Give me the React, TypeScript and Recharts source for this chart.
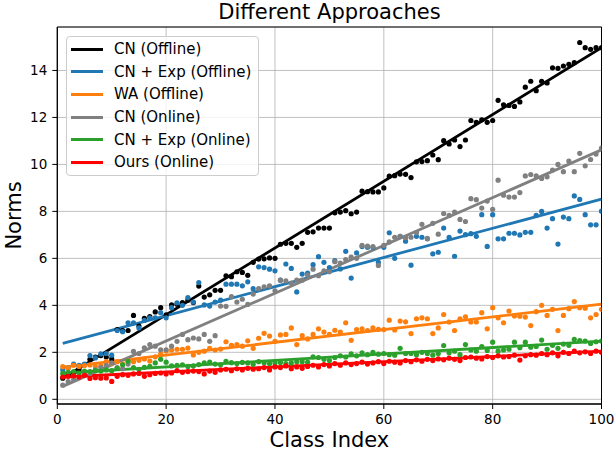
import * as React from 'react';
import {
  ComposedChart,
  Scatter,
  Line,
  XAxis,
  YAxis,
  CartesianGrid,
  Legend,
  ReferenceArea,
} from 'recharts';

const classIndex = Array.from({ length: 100 }, (_, i) => i + 1);

const cnOffline = [
  0.9, 1.02, 1.15, 1.3, 1.48, 1.7, 1.8, 1.86, 1.8, 1.72,
  2.97, 2.92, 2.93, 3.57, 3.12, 3.45, 3.52, 3.72, 3.9, 3.6,
  4.02, 4.05, 4.12, 4.22, 4.12, 4.82, 4.35, 4.45, 4.64, 4.64,
  5.26, 5.22, 5.43, 5.4, 5.28, 5.83, 5.97, 5.98, 6.02, 6.0,
  6.6, 6.64, 6.64, 6.47, 6.64, 7.11, 7.13, 7.29, 7.29, 7.29,
  7.94, 7.97, 8.03, 7.9, 7.97, 8.86, 8.84, 8.83, 8.83, 9.0,
  9.5, 9.52, 9.59, 9.58, 9.44, 10.11, 10.12, 10.16, 10.4, 10.2,
  11.01, 10.87, 11.04, 10.76, 11.04, 11.87, 11.79, 11.9, 11.79, 11.87,
  12.73, 12.54, 12.51, 12.47, 12.66, 13.29, 13.54, 13.14, 13.54, 13.47,
  14.11, 14.09, 14.19, 14.26, 14.33, 15.19, 14.97, 14.9, 14.97, 14.97,
];

const cnExpOffline = [
  1.26, 1.33, 1.5, 1.45, 1.5, 1.86, 1.76, 1.93, 1.95, 1.88,
  2.93, 2.88, 3.26, 3.26, 3.04, 3.36, 3.47, 3.47, 3.69, 3.47,
  3.9, 4.11, 4.0, 4.33, 4.14, 4.97, 4.02, 3.97, 4.14, 4.22,
  4.9, 4.9, 4.9, 4.83, 5.0, 4.71, 5.64, 5.61, 5.54, 5.47,
  5.07, 5.76, 5.57, 4.57, 5.33, 5.37, 5.73, 6.07, 5.83, 5.61,
  5.9, 5.55, 6.3, 5.16, 6.23, 6.5, 6.47, 6.47, 5.83, 6.47,
  7.09, 6.0, 6.94, 6.73, 5.71, 6.94, 6.9, 6.83, 6.19, 6.26,
  7.29, 6.9, 6.09, 7.16, 7.01, 7.05, 6.94, 7.86, 6.51, 7.86,
  6.83, 6.83, 7.07, 7.07, 7.0, 7.11, 7.11, 7.83, 8.0, 7.29,
  7.69, 6.61, 7.76, 7.69, 8.66, 8.51, 7.86, 7.43, 7.43, 8.01,
];

const waOffline = [
  1.39, 1.33, 1.45, 1.4, 1.44, 1.46, 1.4, 1.43, 1.6, 1.52,
  1.6, 1.5, 1.63, 1.6, 1.66, 1.72, 1.63, 1.81, 1.92, 2.06,
  2.1, 2.13, 2.13, 2.18, 1.89, 2.0, 2.05, 2.17, 2.1, 2.14,
  2.45, 2.3, 2.33, 2.26, 2.49, 2.17, 2.6, 2.81, 2.69, 2.47,
  2.74, 2.76, 3.04, 2.33, 2.71, 2.57, 2.76, 3.0, 2.86, 2.76,
  2.94, 2.86, 3.26, 2.51, 2.97, 3.0, 2.93, 3.04, 2.98, 2.97,
  3.37, 2.95, 3.33, 3.3, 2.8, 3.43, 3.47, 3.43, 2.8, 3.04,
  3.61, 3.29, 2.93, 3.43, 3.51, 3.29, 3.29, 3.69, 3.0, 3.9,
  3.47, 3.26, 3.76, 3.55, 3.54, 3.5, 3.14, 3.73, 4.0, 3.57,
  3.83, 2.93, 3.57, 3.86, 4.16, 3.9, 3.88, 3.47, 3.61, 3.83,
];

const cnOnline = [
  0.6, 0.75, 0.85, 0.95, 1.05, 1.1, 1.25, 1.35, 1.45, 1.55,
  1.35, 1.3, 1.5, 2.04, 1.95, 2.19, 2.33, 2.26, 2.11, 2.11,
  2.26, 2.47, 2.76, 2.54, 2.61, 2.57, 2.76, 2.47, 2.71, 3.97,
  3.96, 4.37, 4.14, 4.26, 4.04, 4.48, 4.71, 4.79, 4.83, 4.62,
  5.07, 5.04, 4.95, 5.08, 5.07, 5.29, 5.54, 5.26, 5.47, 5.43,
  5.86, 5.8, 5.95, 6.05, 6.0, 6.55, 6.52, 6.5, 5.7, 6.55,
  6.7, 6.9, 6.94, 6.88, 6.9, 7.1, 7.45, 6.85, 7.49, 7.03,
  7.91, 7.83, 7.97, 7.66, 7.57, 8.54, 8.5, 8.14, 8.44, 8.09,
  9.33, 8.69, 8.61, 8.61, 8.8, 9.51, 9.57, 9.51, 9.4, 9.47,
  9.76, 10.0, 9.69, 10.14, 9.69, 10.47, 9.94, 10.21, 10.44, 10.69,
];

const cnExpOnline = [
  1.1, 1.15, 1.18, 1.12, 1.2, 1.18, 1.22, 1.2, 1.25, 1.22,
  1.32, 1.47, 1.62, 1.35, 1.28, 1.36, 1.4, 1.55, 1.7, 1.58,
  1.42, 1.45, 1.47, 1.4, 1.42, 1.48, 1.55, 1.58, 1.5, 1.47,
  1.62, 1.56, 1.52, 1.57, 1.55, 1.49, 1.6, 1.56, 1.52, 1.55,
  1.57, 1.52, 1.55, 1.6, 1.6, 1.58, 1.81, 1.78, 1.7, 1.65,
  1.78, 1.85, 1.8, 1.93, 1.85, 1.98, 1.9, 2.0, 1.92, 1.95,
  1.9, 1.88, 2.17, 1.95, 1.95, 1.9, 2.0, 1.95, 1.88, 1.95,
  2.29, 1.98, 2.05, 1.9, 2.33, 2.1, 2.05, 2.24, 2.08, 2.43,
  2.05, 2.1, 2.13, 2.43, 2.2, 2.43, 2.22, 2.25, 2.52, 2.13,
  2.3, 2.17, 2.35, 2.3, 2.55, 2.5, 2.48, 2.38, 2.45, 2.48,
];

const oursOnline = [
  0.95, 0.98, 1.0, 0.95, 1.02, 0.89, 0.92, 0.9, 0.91, 0.76,
  0.98, 1.05, 1.02, 1.08, 1.1, 0.98, 1.05, 1.1, 1.12, 1.08,
  1.12, 1.22, 1.15, 1.18, 1.2, 1.18, 1.08, 1.2, 1.15, 1.25,
  1.28, 1.22, 1.3, 1.25, 1.32, 1.28, 1.3, 1.35, 1.25, 1.38,
  1.35, 1.42, 1.3, 1.38, 1.32, 1.4, 1.45, 1.38, 1.48, 1.42,
  1.52, 1.45, 1.55, 1.48, 1.52, 1.58, 1.5, 1.55, 1.6, 1.52,
  1.62, 1.58, 1.55, 1.65, 1.6, 1.68, 1.62, 1.7, 1.65, 1.72,
  1.68, 1.75, 1.7, 1.65, 1.78, 1.8, 1.75, 1.72, 1.82, 1.78,
  1.85, 1.8, 1.82, 1.88, 1.67, 1.85, 1.9, 1.88, 1.95, 1.9,
  1.98, 1.85, 2.0, 1.95, 2.05, 1.98, 2.02, 1.95, 2.05, 2.0,
];

// fitted lines, value at class 1 and class 100
const fitEnds = {
  cnOffline: [0.9, 14.97],
  cnExpOffline: [2.38, 8.52],
  waOffline: [1.37, 4.05],
  cnOnline: [0.55, 10.62],
  cnExpOnline: [1.12, 2.48],
  oursOnline: [0.95, 2.05],
};

const seriesNames = ['CN (Offline)', 'CN + Exp (Offline)', 'WA (Offline)', 'CN (Online)', 'CN + Exp (Online)', 'Ours (Online)'];
const seriesColors = ['#000000', '#1f77b4', '#ff7f0e', '#808080', '#2ca02c', '#ff0000'];
const seriesValues = [cnOffline, cnExpOffline, waOffline, cnOnline, cnExpOnline, oursOnline];
const seriesFits = [fitEnds.cnOffline, fitEnds.cnExpOffline, fitEnds.waOffline, fitEnds.cnOnline, fitEnds.cnExpOnline, fitEnds.oursOnline];

const xTicks = [0, 20, 40, 60, 80, 100];
const yTicks = [0, 2, 4, 6, 8, 10, 12, 14];

const FONT = '"DejaVu Sans", sans-serif';

function renderLegend() {
  return (
    <div
      style={{
        width: 193,
        boxSizing: 'border-box',
        border: '1px solid #cccccc',
        borderRadius: 4,
        background: 'rgba(255,255,255,0.8)',
        padding: '1px 0 1px 0',
        fontFamily: FONT,
        fontSize: 15,
        color: '#000',
      }}
    >
      {seriesNames.map((name, i) => (
        <div key={name} style={{ display: 'flex', alignItems: 'center', height: 22.6 }}>
          <div style={{ width: 32, height: 3, background: seriesColors[i], marginLeft: 4, marginRight: 11 }} />
          <span style={{ whiteSpace: 'nowrap' }}>{name}</span>
        </div>
      ))}
    </div>
  );
}

const XLabel = () => (
  <text x={329.4} y={447} textAnchor="middle" fontSize={21} fontFamily={FONT} fill="#000">
    Class Index
  </text>
);

const YLabel = () => (
  <text
    x={14}
    y={215.5}
    transform="rotate(-90 14 215.5)"
    textAnchor="middle"
    dominantBaseline="central"
    fontSize={21}
    fontFamily={FONT}
    fill="#000"
  >
    Norms
  </text>
);

export default function App(): React.JSX.Element {
  return (
    <div style={{ position: 'relative', width: 615, height: 453, background: '#fff' }}>
      <style>{'body{margin:0;}'}</style>
      <div
        style={{
          position: 'absolute',
          left: 57,
          top: 2,
          width: 545,
          textAlign: 'center',
          fontFamily: FONT,
          fontSize: 21,
          lineHeight: '21px',
          color: '#000',
          zIndex: 2,
        }}
      >
        Different Approaches
      </div>
      <ComposedChart width={615} height={453} margin={{ top: 27, right: 13.5, bottom: 0, left: 0 }}>
        <CartesianGrid stroke="#b0b0b0" strokeWidth={0.8} />
        <XAxis
          type="number"
          dataKey="x"
          domain={[0, 100]}
          ticks={xTicks}
          allowDataOverflow
          height={49}
          tickSize={5}
          tickMargin={5}
          stroke="#000"
          tick={{ fill: '#000', fontSize: 13.5, fontFamily: FONT }}
          label={<XLabel />}
        />
        <YAxis
          type="number"
          domain={[-0.2, 15.85]}
          ticks={yTicks}
          allowDataOverflow
          width={57.3}
          tickSize={5}
          tickMargin={5}
          stroke="#000"
          tick={{ fill: '#000', fontSize: 13.5, fontFamily: FONT }}
          label={<YLabel />}
        />
        {seriesValues.map((vals, i) => (
          <Scatter
            key={'s' + i}
            name={seriesNames[i]}
            data={classIndex.map((x, j) => ({ x, y: vals[j] }))}
            dataKey="y"
            fill={seriesColors[i]}
            isAnimationActive={false}
            legendType="none"
            shape={(p: any) => <circle cx={p.cx} cy={p.cy} r={2.6} fill={seriesColors[i]} />}
          />
        ))}
        {seriesFits.map((ends, i) => (
          <Line
            key={'l' + i}
            name={seriesNames[i]}
            data={[
              { x: classIndex[0], y: ends[0] },
              { x: classIndex[classIndex.length - 1], y: ends[1] },
            ]}
            dataKey="y"
            type="linear"
            stroke={seriesColors[i]}
            strokeWidth={2.8}
            dot={false}
            activeDot={false}
            isAnimationActive={false}
          />
        ))}
        <ReferenceArea x1={0} x2={100} y1={-0.2} y2={15.85} fill="none" stroke="#000" strokeWidth={1} />
        <Legend
          layout="vertical"
          align="center"
          verticalAlign="middle"
          content={renderLegend}
          wrapperStyle={{ left: 66, top: 36, width: 193 }}
        />
      </ComposedChart>
    </div>
  );
}
